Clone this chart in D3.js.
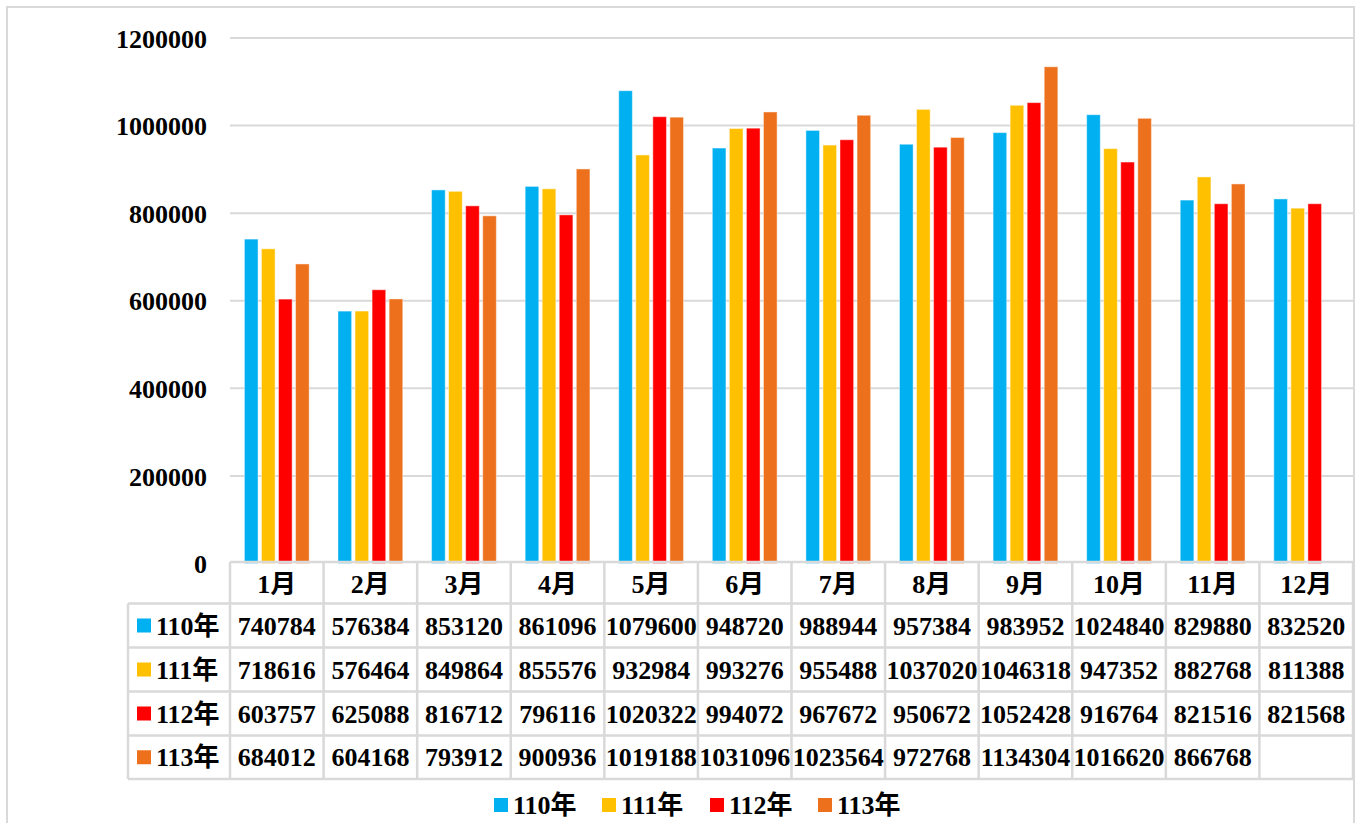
<!DOCTYPE html>
<html>
<head>
<meta charset="utf-8">
<script src="https://cdn.jsdelivr.net/npm/d3@7"></script>
<style>
  body{margin:0;background:#fff;}
  text{font-family:"Liberation Serif","Times New Roman","Noto Sans CJK TC",serif;font-weight:bold;fill:#000;}
</style>
</head>
<body>
<svg id="chart" width="1360" height="823"></svg>
<script>
var months=['1月','2月','3月','4月','5月','6月','7月','8月','9月','10月','11月','12月'];
var seriesNames=['110年','111年','112年','113年'];
var colors=['#00B0F0','#FFC000','#FF0000','#ED711C'];
var y110=[740784,576384,853120,861096,1079600,948720,988944,957384,983952,1024840,829880,832520];
var y111=[718616,576464,849864,855576,932984,993276,955488,1037020,1046318,947352,882768,811388];
var y112=[603757,625088,816712,796116,1020322,994072,967672,950672,1052428,916764,821516,821568];
var y113=[684012,604168,793912,900936,1019188,1031096,1023564,972768,1134304,1016620,866768,null];
var yTicks=[0,200000,400000,600000,800000,1000000,1200000];

var series=[y110,y111,y112,y113];
var svg=d3.select('#chart');
var plotLeft=230,plotRight=1353,plotTop=38,plotBase=563.5;
var grid='#d9d9d9';

// outer border
svg.append('rect').attr('x',7).attr('y',7).attr('width',1347).attr('height',830)
  .attr('fill','none').attr('stroke',grid).attr('stroke-width',2);

var x=d3.scaleBand().domain(months).range([plotLeft,plotRight]).padding(0);
var xi=d3.scaleBand().domain(d3.range(4))
  .range([14.4,x.bandwidth()-14.4]).paddingInner(0.2).paddingOuter(0);
var y=d3.scaleLinear().domain([0,1200000]).range([plotBase,plotTop]);

// gridlines + y labels
svg.append('g').selectAll('line').data(yTicks.filter(function(d){return d>0;})).join('line')
  .attr('x1',plotLeft).attr('x2',plotRight).attr('y1',function(d){return y(d);}).attr('y2',function(d){return y(d);})
  .attr('stroke',grid).attr('stroke-width',2);
var yAxis=d3.axisLeft(y).tickValues(yTicks).tickSize(0).tickPadding(23).tickFormat(d3.format('d'));
var ga=svg.append('g').attr('transform','translate('+plotLeft+',0)').call(yAxis);
ga.select('.domain').remove();
ga.selectAll('text').style('font-size','26px').attr('dy','0.35em').attr('fill','#000')
  .style('font-family','"Liberation Serif","Times New Roman",serif').style('font-weight','bold');

// bars
series.forEach(function(s,si){
  svg.append('g').selectAll('rect').data(s.map(function(v,i){return {m:months[i],v:v};}).filter(function(d){return d.v!=null;}))
    .join('rect')
    .attr('x',function(d){return x(d.m)+xi(si);})
    .attr('width',xi.bandwidth())
    .attr('y',function(d){return y(d.v);})
    .attr('height',function(d){return plotBase-y(d.v);})
    .attr('fill',colors[si])
    .attr('stroke','rgba(255,255,255,0.45)').attr('stroke-width',1);
});

// data table
var rowEdges=[562,603.5,647.5,691.5,735.5,779];
var tableLeft=128;
var tg=svg.append('g');
rowEdges.forEach(function(ry,i){
  tg.append('line').attr('x1',i==0?plotLeft:tableLeft).attr('x2',plotRight)
    .attr('y1',ry).attr('y2',ry).attr('stroke',grid).attr('stroke-width',2.5);
});
tg.append('line').attr('x1',tableLeft).attr('x2',tableLeft).attr('y1',rowEdges[1]).attr('y2',rowEdges[5])
  .attr('stroke',grid).attr('stroke-width',2.5);
months.forEach(function(m){
  tg.append('line').attr('x1',x(m)).attr('x2',x(m)).attr('y1',rowEdges[0]).attr('y2',rowEdges[5])
    .attr('stroke',grid).attr('stroke-width',2.5);
});
tg.append('line').attr('x1',plotRight).attr('x2',plotRight).attr('y1',rowEdges[0]).attr('y2',rowEdges[5])
  .attr('stroke',grid).attr('stroke-width',2.5);

// header
tg.selectAll('text.hd').data(months).join('text').attr('class','hd')
  .attr('x',function(d){return x(d)+x.bandwidth()/2;}).attr('y',(rowEdges[0]+rowEdges[1])/2+1)
  .attr('dy','0.35em').attr('text-anchor','middle').style('font-size','26px').text(function(d){return d;});

// rows
series.forEach(function(s,si){
  var cy=(rowEdges[si+1]+rowEdges[si+2])/2;
  tg.append('rect').attr('x',137).attr('y',cy-7).attr('width',14).attr('height',14).attr('fill',colors[si]);
  tg.append('text').attr('x',156).attr('y',cy).attr('dy','0.35em').style('font-size','26px').text(seriesNames[si]);
  tg.selectAll('text.c'+si).data(s).join('text').attr('class','c'+si)
    .attr('x',function(d,i){return x(months[i])+x.bandwidth()/2;}).attr('y',cy)
    .attr('dy','0.35em').attr('text-anchor','middle').style('font-size','26px')
    .text(function(d){return d==null?'':d;});
});

// legend
var lg=svg.append('g');
seriesNames.forEach(function(n,i){
  var lx=494+i*108;
  lg.append('rect').attr('x',lx).attr('y',798).attr('width',14).attr('height',14).attr('fill',colors[i]);
  lg.append('text').attr('x',lx+19).attr('y',805).attr('dy','0.35em').style('font-size','26px').text(n);
});
</script>
</body>
</html>
